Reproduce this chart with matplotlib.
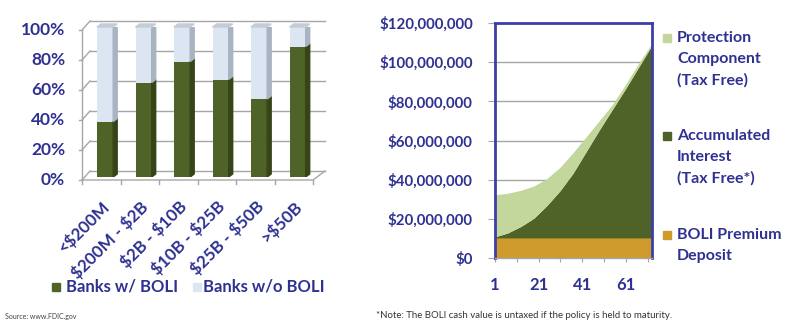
import numpy as np
import matplotlib
matplotlib.use("Agg")
import matplotlib.pyplot as plt
from matplotlib.patches import Polygon, Rectangle
from matplotlib.ticker import FuncFormatter

plt.rcParams['font.family'] = ['Lato', 'DejaVu Sans']

# Left chart: share of banks holding BOLI by asset size
size_labels = ["<$200M", "$200M - $2B", "$2B - $10B", "$10B - $25B", "$25B - $50B", ">$50B"]
with_boli = [37, 63, 77, 65, 52, 87]
without_boli = [63, 37, 23, 35, 48, 13]
pct_ticks = [0, 20, 40, 60, 80, 100]

# Right chart: BOLI value build-up (stacked components, $)
years = [1, 7, 13, 19, 25, 31, 37, 43, 49, 55, 61, 67, 73]
premium = [10e6] * 13
interest = [0.5e6, 2.5e6, 5.8e6, 10e6, 16.5e6, 24e6, 33e6, 44e6, 55e6, 65.5e6, 76e6, 87e6, 98e6]
protection = [21.5e6, 20.3e6, 18.5e6, 16.5e6, 13.8e6, 12e6, 10.5e6, 7.6e6, 4.8e6, 2.5e6, 2.2e6, 2.0e6, 1.0e6]
money_ticks = [0, 20e6, 40e6, 60e6, 80e6, 100e6, 120e6]
year_ticks = [1, 11, 21, 31, 41, 51, 61, 71]

NAVY = '#2E3192'
DKGREEN = '#4F6228'
DKGREEN_SIDE = '#364418'
LTBLUE = '#DCE6F2'
LTBLUE_SIDE = '#A9B4C2'
TOPFACE = '#C5CCD6'
LTGREEN = '#C3D69B'
GOLD = '#CE9B2C'
GRID = '#A6A6A6'

W, H = 800, 328
fig = plt.figure(figsize=(8, 3.28), dpi=100)
fig.patch.set_facecolor('white')

# ---------------- left chart (pseudo 3D columns) ----------------
ax1 = fig.add_axes([82 / W, (H - 177) / H, (313 - 82) / W, 150 / H])
ax1.set_xlim(0, 6)
ax1.set_ylim(0, 100)
ax1.axis('off')

px_x = 6 / (313 - 82)   # data units per pixel
px_y = 100 / 150
bdx, bdy = 8 * px_x, 6 * px_y     # back wall offset
fdy = -3 * px_y                    # front plane offset
sdx, sdy = 4 * px_x, 3 * px_y      # column depth

xr = 6 + 12 * px_x
for v in pct_ticks:
    ax1.plot([bdx, xr], [v + bdy, v + bdy], color=GRID, lw=1, clip_on=False, zorder=1)
    ax1.plot([0, bdx], [v + fdy, v + bdy], color=GRID, lw=1, clip_on=False, zorder=1)
    ax1.plot([-3 * px_x, 0], [v + fdy, v + fdy], color=GRID, lw=1, clip_on=False, zorder=1)
    ax1.text(-17 * px_x, v + fdy, f"{v}%", ha='right', va='center', fontsize=12.5,
             fontweight='bold', color=NAVY)
ax1.plot([0, 0], [fdy, 100 + fdy], color=GRID, lw=1, clip_on=False)
ax1.plot([0, 6, xr], [fdy, fdy, bdy], color=GRID, lw=1, clip_on=False)
for i in range(7):
    ax1.plot([i, i], [fdy, fdy - 4 * px_y], color=GRID, lw=1, clip_on=False)

xpos = np.arange(len(size_labels)) + 0.6
bw = 0.42
ax1.bar(xpos, with_boli, width=bw, color=DKGREEN, zorder=3)
ax1.bar(xpos, without_boli, bottom=with_boli, width=bw, color=LTBLUE, zorder=3)
for x, a, b in zip(xpos, with_boli, without_boli):
    r, l = x + bw / 2, x - bw / 2
    ax1.add_patch(Polygon([(r, 0), (r + sdx, sdy), (r + sdx, a + sdy), (r, a)],
                          color=DKGREEN_SIDE, zorder=3))
    ax1.add_patch(Polygon([(r, a), (r + sdx, a + sdy), (r + sdx, a + b + sdy), (r, a + b)],
                          color=LTBLUE_SIDE, zorder=3))
    t = a + b
    ax1.add_patch(Polygon([(l, t), (l + sdx, t + sdy), (r + sdx, t + sdy), (r, t)],
                          color=TOPFACE, zorder=3, clip_on=False))

for x, lab in zip(xpos, size_labels):
    ax1.text(x + 0.05, -18, lab.replace('$', r'\$'), rotation=45, rotation_mode='anchor',
             ha='right', va='center', fontsize=12.3, fontweight='bold', color=NAVY)

# left legend
fig.add_artist(Rectangle((52 / W, (H - 291) / H), 8 / W, 8 / H, color=DKGREEN,
                         transform=fig.transFigure))
fig.text(66 / W, (H - 287) / H, "Banks w/ BOLI", ha='left', va='center', fontsize=12,
         fontweight='bold', color=NAVY)
fig.add_artist(Rectangle((193 / W, (H - 291) / H), 8 / W, 8 / H, color=LTBLUE,
                         transform=fig.transFigure))
fig.text(203 / W, (H - 287) / H, "Banks w/o BOLI", ha='left', va='center', fontsize=12,
         fontweight='bold', color=NAVY)
fig.text(5 / W, (H - 316) / H, "Source: www.FDIC.gov", ha='left', va='center', fontsize=5,
         color='#444444')

# ---------------- right chart (stacked area) ----------------
ax2 = fig.add_axes([495 / W, (H - 258) / H, 157 / W, 235 / H])
ax2.stackplot(years, premium, interest, protection, colors=[GOLD, DKGREEN, LTGREEN],
              zorder=2)
ax2.set_xlim(1, 73)
ax2.set_ylim(0, 120e6)
ax2.set_yticks(money_ticks)
ax2.yaxis.set_major_formatter(FuncFormatter(lambda v, p: f"${v:,.0f}"))
ax2.set_xticks(year_ticks)
ax2.set_xticklabels([str(t) if i % 2 == 0 else '' for i, t in enumerate(year_ticks)])
for v in money_ticks[1:-1]:
    ax2.axhline(v, color=GRID, lw=1, zorder=1)
for s in ['left', 'top', 'right']:
    ax2.spines[s].set_color('#3B3FA6')
    ax2.spines[s].set_linewidth(2)
ax2.spines['bottom'].set_color(GRID)
ax2.spines['bottom'].set_linewidth(1)
ax2.spines['bottom'].set_zorder(3)
ax2.tick_params(axis='y', length=5, color=GRID, pad=11, labelsize=10.8, labelcolor=NAVY)
ax2.tick_params(axis='x', length=3, color=GRID, pad=11, labelsize=12, labelcolor=NAVY)
for lab in ax2.get_xticklabels() + ax2.get_yticklabels():
    lab.set_fontweight('bold')

legend_items = [
    (LTGREEN, ["Protection", "Component", "(Tax Free)"], 38),
    (DKGREEN, ["Accumulated", "Interest", "(Tax Free*)"], 136),
    (GOLD, ["BOLI Premium", "Deposit"], 235),
]
for col, lines, ytop in legend_items:
    fig.add_artist(Rectangle((663 / W, (H - ytop - 4) / H), 8 / W, 8 / H, color=col,
                             transform=fig.transFigure))
    for k, line in enumerate(lines):
        fig.text(677 / W, (H - ytop - 21 * k) / H, line, ha='left', va='center',
                 fontsize=11.5, fontweight='bold', color=NAVY)

fig.text(376 / W, (H - 316) / H,
         "*Note: The BOLI cash value is untaxed if the policy is held to maturity.",
         ha='left', va='center', fontsize=6.9, color='#333333')

fig.savefig('out.png', dpi=100, facecolor='white')
